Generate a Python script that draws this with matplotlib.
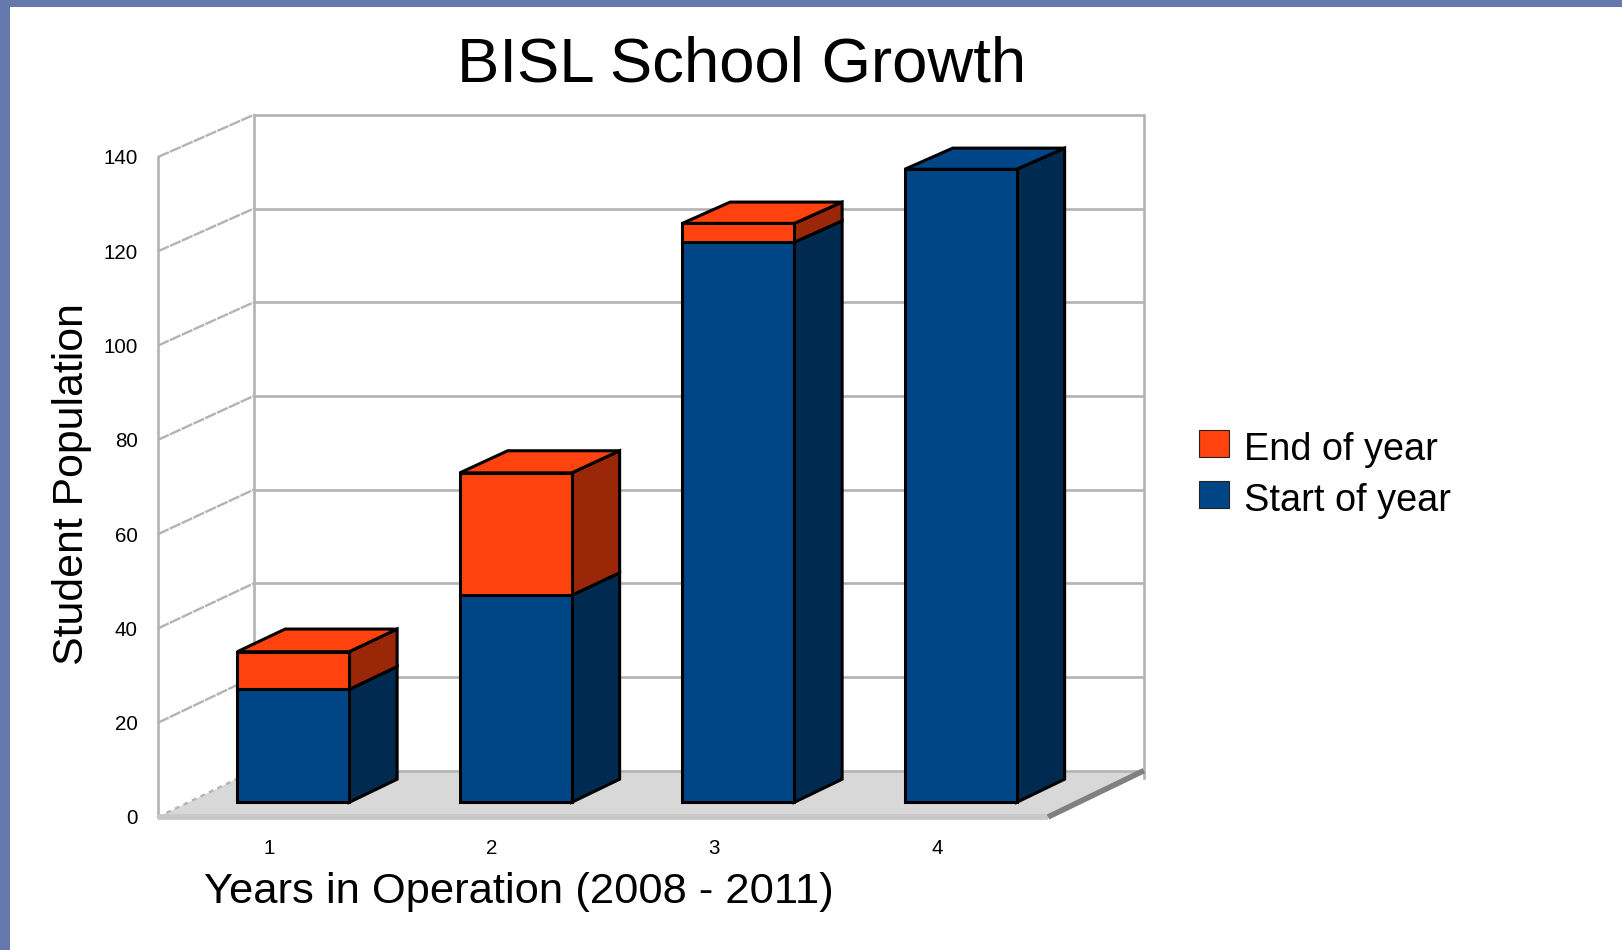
import matplotlib
matplotlib.use('Agg')
import matplotlib.pyplot as plt
from matplotlib.patches import Patch, Rectangle

# values
years = [1, 2, 3, 4]
start_of_year = [24, 44, 119, 134.5]
end_of_year = [8, 26, 4, 0]
y_ticks = [0, 20, 40, 60, 80, 100, 120, 140]

# colours
blue = '#004586'
blue_side = '#002a50'
orange = '#ff420e'
orange_side = '#992708'
wall = '#b3b3b3'
band = '#6478ae'

# fake 3d: how far the back wall is shifted, in data units
depth_x = 0.431
depth_y = 9.83
back_shrink = 0.0063
bar_width = 0.503
bar_front = 0.25
bar_back = 0.75
bar_lift = 0.65

W, H = 1622, 950
plt.rcParams['font.family'] = ['Liberation Sans', 'DejaVu Sans']

fig = plt.figure(figsize=(W / 100, H / 100), dpi=100, facecolor='white')
ax = fig.add_axes([158 / W, 1 - 817 / H, 890 / W, 660 / H])
ax.set_xlim(0.5, 4.5)
ax.set_ylim(0, 140)
ax.patch.set_visible(False)
for s in ax.spines.values():
    s.set_visible(False)

# blue slide background showing along top and left
fig.add_artist(Rectangle((0, 0), 10 / W, 1, transform=fig.transFigure, color=band, lw=0))
fig.add_artist(Rectangle((0, 1 - 7 / H), 1, 7 / H, transform=fig.transFigure, color=band, lw=0))


def project(x, y, d):
    return x + d * depth_x, y + d * (depth_y - back_shrink * y)


def bar_point(x, y, d):
    return project(x, y + bar_lift, d)


def face(points, color, edge='none', lw=2.2, z=3):
    xs = [p[0] for p in points]
    ys = [p[1] for p in points]
    ax.fill(xs, ys, facecolor=color, edgecolor=edge, linewidth=lw, zorder=z,
            clip_on=False, joinstyle='miter')


x0, x1 = 0.5, 4.5
top = y_ticks[-1]

# floor
face([project(x0, 0, 0), project(x1, 0, 0), project(x1, 0, 1), project(x0, 0, 1)], '#d8d8d8', z=1)

# walls and grid
for v in y_ticks:
    xb, yb = project(x0, v, 1)
    xe, ye = project(x1, v, 1)
    ax.plot([xb, xe], [yb, ye], color=wall, lw=1.9, zorder=2, clip_on=False, solid_capstyle='butt')
    if v > 0:
        ax.plot([x0, xb], [v, yb], color=wall, lw=1.7, zorder=2, clip_on=False,
                linestyle=(0, (5, 0.5)))
    else:
        ax.plot([x0, xb], [v, yb], color=wall, lw=1.7, zorder=2, clip_on=False,
                linestyle=(0, (2, 2)))
ax.plot([x0, x0], [0, top], color=wall, lw=1.9, zorder=2, clip_on=False)
xb, yb = project(x0, 0, 1)
ax.plot([xb, xb], [yb, project(x0, top, 1)[1]], color=wall, lw=1.9, zorder=2, clip_on=False)
xb, yb = project(x1, 0, 1)
ax.plot([xb, xb], [yb - 1.5, project(x1, top, 1)[1]], color=wall, lw=1.9, zorder=2, clip_on=False)

# floor edges
ax.plot([x0, x1], [0, 0], color='#c8c8c8', lw=4.2, zorder=2, clip_on=False, solid_capstyle='butt')
ax.plot([x1, xb], [0, yb], color='#808080', lw=4, zorder=2, clip_on=False, solid_capstyle='butt')

# bars, left to right
for i, year in enumerate(years):
    left = year - bar_width / 2
    right = year + bar_width / 2
    bottom = 0
    lid = blue
    for height, col, side in [(start_of_year[i], blue, blue_side), (end_of_year[i], orange, orange_side)]:
        if height == 0:
            continue
        upper = bottom + height
        # side
        face([bar_point(right, bottom, bar_front), bar_point(right, bottom, bar_back),
              bar_point(right, upper, bar_back), bar_point(right, upper, bar_front)], side, 'black')
        # front
        face([bar_point(left, bottom, bar_front), bar_point(right, bottom, bar_front),
              bar_point(right, upper, bar_front), bar_point(left, upper, bar_front)], col, 'black', z=4)
        bottom = upper
        lid = col
    # lid takes the colour of the last segment
    face([bar_point(left, bottom, bar_front), bar_point(right, bottom, bar_front),
          bar_point(right, bottom, bar_back), bar_point(left, bottom, bar_back)], lid, 'black')

# ticks
ax.set_xticks(years)
ax.set_xticklabels(years)
ax.set_yticks(y_ticks)
ax.set_yticklabels(y_ticks)
ax.tick_params(axis='both', length=0, labelsize=14.8, labelcolor='black')
ax.tick_params(axis='x', pad=16)
ax.tick_params(axis='y', pad=14.5)

ax.set_xlabel('Years in Operation (2008 - 2011)', fontsize=31.3, va='center')
ax.xaxis.set_label_coords(0.4056, -0.1138)
ax.set_ylabel('Student Population', fontsize=30.9, va='center')
ax.yaxis.set_label_coords(-0.097, 0.5045)
ax.set_title('BISL School Growth', fontsize=45.7, x=(742 - 158) / 890, y=(817 - 73) / 660, va='center')

handles = [Patch(facecolor=orange, edgecolor='#222222', lw=0.8, label='End of year'),
           Patch(facecolor=blue, edgecolor='#222222', lw=0.8, label='Start of year')]
leg = fig.legend(handles=handles, loc='upper left', bbox_to_anchor=(1199 / W, 1 - 428.5 / H), frameon=False,
                 fontsize=27.3, handlelength=0.8, handleheight=0.72, handletextpad=0.38,
                 labelspacing=0.39, borderpad=0, borderaxespad=0)
# labels sit a little below their swatches
for t in leg.get_texts():
    t.set_y(-4)

fig.savefig('out.png', dpi=100, facecolor='white')
